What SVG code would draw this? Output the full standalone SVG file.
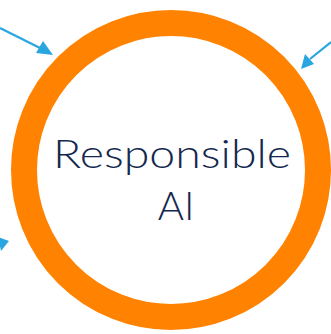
<svg xmlns="http://www.w3.org/2000/svg" width="331" height="334" viewBox="0 0 331 334">
<style>
.ring{fill:none;stroke:#ff8200;stroke-width:26}
.lbl{font-family:Lato,"Open Sans",sans-serif;font-size:40px;font-weight:300;fill:#14284f;text-anchor:middle}
.arr{stroke:#29a5df;stroke-width:2.2;fill:none}
.head{fill:#29a5df}
</style>
<rect width="331" height="334" fill="#fff"/>
<g id="connectors">
<line class="arr" x1="0" y1="28" x2="42" y2="49"/>
<polygon class="head" points="53,55 36,53 43,41"/>
<line class="arr" x1="331" y1="42" x2="310" y2="59"/>
<polygon class="head" points="301,69 305,54 314,64"/>
<polygon class="head" points="9,241 -2,237 1,251"/>
</g>
<g id="responsible-ai">
<circle class="ring" cx="171" cy="170" r="147"/>
<text class="lbl" x="172" y="168" textLength="238" lengthAdjust="spacingAndGlyphs">Responsible</text>
<text class="lbl" x="176" y="220">AI</text>
</g>
</svg>
